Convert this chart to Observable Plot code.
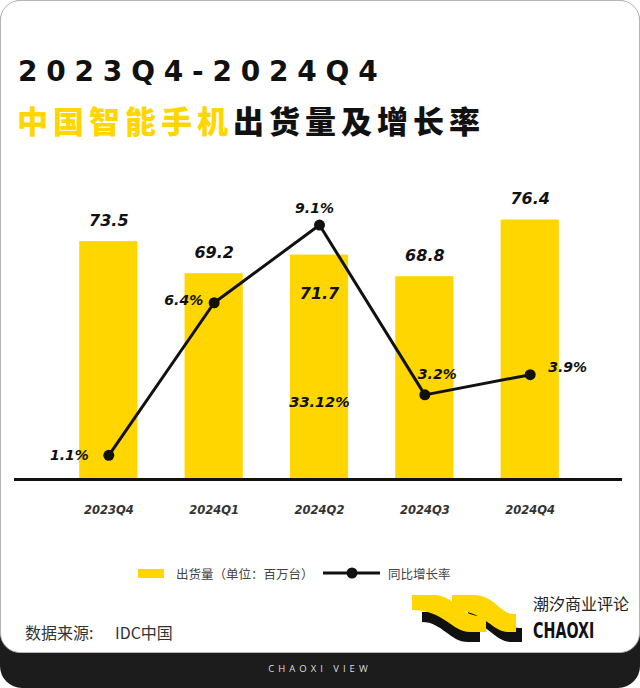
<!DOCTYPE html>
<html>
<head>
<meta charset="utf-8">
<script src="https://cdn.jsdelivr.net/npm/d3@7"></script>
<script src="https://cdn.jsdelivr.net/npm/@observablehq/plot@0.6"></script>
<style>
  html, body { margin: 0; padding: 0; background: #fff; }
  #page { position: relative; width: 640px; height: 688px; overflow: hidden; background: #fff; }
  #frame { position: absolute; left: 0; top: 0; width: 640px; height: 688px; background: #1c1c1c; border-radius: 22px; overflow: hidden; }
  #card { position: absolute; left: 0; top: 0; width: 638px; height: 651px; background: #fff; border: 1px solid #b5b5b5; border-radius: 20px; }
  .abs { position: absolute; white-space: nowrap; }
  #title { left: 18px; top: 58px; font-family: "DejaVu Sans"; font-weight: 900; font-size: 28px; letter-spacing: 8.8px; color: #111; line-height: 1; }
  #subtitle { left: 17px; top: 103px; font-family: "Noto Sans CJK SC"; font-weight: 900; font-size: 31px; letter-spacing: 5px; color: #111; line-height: 1.1; }
  #subtitle .y { color: #FFD600; }
  #chart { left: 0; top: 180px; }
  .legend { font-family: "Noto Sans CJK SC"; font-size: 12.5px; color: #444; }
  #src { left: 25px; top: 620px; font-family: "Noto Sans CJK SC"; font-size: 16px; color: #333; }
  #brand { left: 533px; top: 594px; font-family: "Noto Sans CJK SC"; font-size: 16px; color: #222; line-height: 1.2; }
  #brand2 { left: 533px; top: 620px; font-family: "Liberation Sans Narrow", "DejaVu Sans Condensed", sans-serif; font-weight: 900; font-size: 22px; color: #111; transform: scaleX(0.72); transform-origin: left; line-height: 1; }
  #foot { left: 0; width: 640px; top: 662px; text-align: center; font-family: "Open Sans", sans-serif; font-size: 9.5px; letter-spacing: 4px; color: #ddd; }
</style>
</head>
<body>
<div id="page">
  <div id="frame"></div>
  <div id="card"></div>
  <div id="title" class="abs">2023Q4-2024Q4</div>
  <div id="subtitle" class="abs"><span class="y">中国智能手机</span>出货量及增长率</div>
  <div id="chart" class="abs"></div>
  <svg class="abs" style="left:130px;top:560px" width="330" height="26">
    <rect x="8" y="9" width="26" height="9" fill="#FFD600"></rect>
    <line x1="193" y1="13" x2="250" y2="13" stroke="#111" stroke-width="3"></line>
    <circle cx="222" cy="13" r="5.5" fill="#111"></circle>
  </svg>
  <div class="abs legend" style="left:176px;top:564px">出货量（单位：百万台）</div>
  <div class="abs legend" style="left:388px;top:564px">同比增长率</div>
  <div id="src" class="abs">数据来源:&nbsp;&nbsp;&nbsp;&nbsp;&nbsp;&nbsp;IDC中国</div>
  <svg class="abs" style="left:408px;top:592px" width="122" height="56">
    <g fill="#111">
      <path d="M14,20 H24 C42,20 50,38 70,38 H72 V50 H60 C42,50 34,30 14,30 Z"></path>
      <path d="M60,20 H70 C88,20 96,36 112,36 H114 V50 H104 C86,50 80,30 60,30 Z"></path>
    </g>
    <g fill="#FFD600">
      <path d="M4,3 H26 C46,3 52,24 72,24 H78 V40 H62 C44,40 36,18 4,18 Z"></path>
      <path d="M44,3 H66 C86,3 92,22 106,22 H108 V40 H100 C84,40 76,18 44,18 Z"></path>
    </g>
  </svg>
  <div id="brand" class="abs">潮汐商业评论</div>
  <div id="brand2" class="abs">CHAOXI</div>
  <div id="foot" class="abs">CHAOXI VIEW</div>
</div>
<script>
// ---- data ----
const quarters = ["2023Q4", "2024Q1", "2024Q2", "2024Q3", "2024Q4"];
const shipments = [73.5, 69.2, 71.7, 68.8, 76.4];          // 出货量（百万台）
const growth = [1.1, 6.4, 9.1, 3.2, 3.9];                   // 同比增长率 %
const growthLabels = ["1.1%", "6.4%", "9.1%", "3.2%", "3.9%"];
const shareNote = ["33.12%"];                               // annotation inside 2024Q2 bar

const rows = quarters.map((q, i) => ({q, v: shipments[i], g: growth[i], gl: growthLabels[i]}));

const yMin = 41.6, yMax = 81.7;
// secondary (growth) axis mapped onto the primary y scale
const gy = d3.scaleLinear([0, 10], [40.6, 79.2]);
const Y = d => gy(d.g);

const YEL = "#FFD600";
const numFont = {fontFamily: "DejaVu Sans", fontWeight: "bold", fontStyle: "italic"};

const chart = Plot.plot({
  width: 640,
  height: 350,
  marginTop: 0,
  marginBottom: 51,
  marginLeft: 16,
  marginRight: 18,
  x: {domain: quarters, paddingInner: 0.4476, paddingOuter: 0.6, round: false, axis: null},
  y: {domain: [yMin, yMax], axis: null},
  style: {overflow: "visible"},
  marks: [
    Plot.barY(rows, {x: "q", y1: yMin, y2: "v", fill: YEL}),
    Plot.ruleY([yMin], {stroke: "#111", strokeWidth: 3, insetLeft: -2}),
    Plot.axisX({label: null, tickSize: 0, tickPadding: 26, fontSize: 11.5, fill: "#333", ...numFont, style: "letter-spacing:0.6px"}),
    Plot.line(rows, {x: "q", y: Y, stroke: "#111", strokeWidth: 3}),
    Plot.dot(rows, {x: "q", y: Y, r: 5.5, fill: "#111"}),
    // shipment labels
    Plot.text(rows.filter(d => d.q !== "2024Q2"), {x: "q", y: "v", text: d => d.v.toFixed(1), dy: -21, fontSize: 16, fill: "#111", ...numFont, style: "letter-spacing:2px"}),
    Plot.text(rows.filter(d => d.q === "2024Q2"), {x: "q", y: "v", text: d => d.v.toFixed(1), dy: 39, fontSize: 16, fill: "#111", ...numFont, style: "letter-spacing:2px"}),
    Plot.text(shareNote, {x: () => "2024Q2", y: () => yMin, text: d => d, dy: -77, fontSize: 14.5, fill: "#111", ...numFont, style: "letter-spacing:1px"}),
    // growth labels
    Plot.text(rows.filter(d => d.q === "2023Q4"), {x: "q", y: Y, text: "gl", textAnchor: "end", dx: -20, fontSize: 14, fill: "#111", ...numFont}),
    Plot.text(rows.filter(d => d.q === "2024Q1"), {x: "q", y: Y, text: "gl", textAnchor: "end", dx: -11, dy: -2, fontSize: 14, fill: "#111", ...numFont}),
    Plot.text(rows.filter(d => d.q === "2024Q2"), {x: "q", y: Y, text: "gl", dy: -17, dx: -5, fontSize: 14, fill: "#111", ...numFont}),
    Plot.text(rows.filter(d => d.q === "2024Q3"), {x: "q", y: Y, text: "gl", textAnchor: "start", dx: -7, dy: -20, fontSize: 14, fill: "#111", ...numFont}),
    Plot.text(rows.filter(d => d.q === "2024Q4"), {x: "q", y: Y, text: "gl", textAnchor: "start", dx: 18, dy: -7, fontSize: 14, fill: "#111", ...numFont})
  ]
});
document.getElementById("chart").appendChild(chart);
</script>
</body>
</html>
